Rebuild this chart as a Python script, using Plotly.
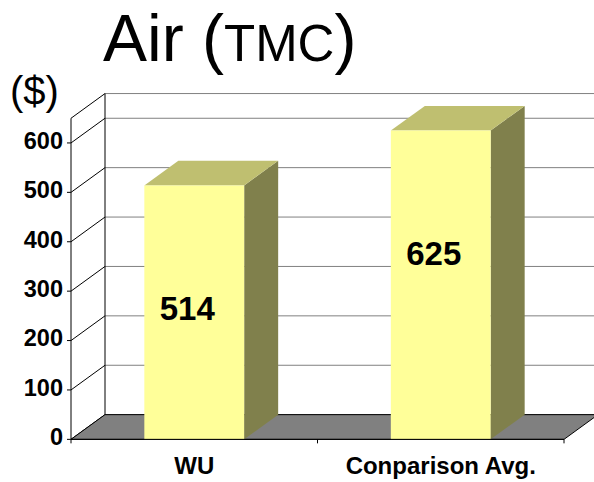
import plotly.graph_objects as go

# ---- chart data ----
categories = ["WU", "Conparison Avg."]
values = [514, 625]
y_ticks = [0, 100, 200, 300, 400, 500, 600]
y_max = 650
title_main = "Air ("
title_small = "TMC"
title_end = ")"
unit_label = "($)"

# ---- styling ----
FONT = "Liberation Sans, Arial, sans-serif"
FRONT = "#FFFF99"
TOP = "#BFBF70"
SIDE = "#80804C"
FLOOR = "#808080"
GRID = "#808080"

W, H = 594, 482
# axis scale: pixels per category unit and per dollar, with the front
# origin placed inside the full-page plotting area
PX_X, PX_Y = 246.5, 0.494
ORIGIN_PX = (71.0, 439.35)
X_LO = -0.5 - ORIGIN_PX[0] / PX_X
X_HI = X_LO + W / PX_X
Y_LO = -(H - ORIGIN_PX[1]) / PX_Y
Y_HI = Y_LO + H / PX_Y

# 3-D look: depth offset of the back planes, in axis units
DX, DY = 34 / PX_X, 50
BAR_HALF = 0.2025

fig = go.Figure()


def line(xs, ys, color="black", width=1):
    fig.add_trace(go.Scatter(x=xs, y=ys, mode="lines", hoverinfo="skip",
                             line=dict(color=color, width=width), showlegend=False))


def poly(xs, ys, fill, edge=None):
    fig.add_trace(go.Scatter(x=xs + [xs[0]], y=ys + [ys[0]], mode="lines", fill="toself",
                             fillcolor=fill, hoverinfo="skip",
                             line=dict(color=edge or fill, width=1 if edge else 0),
                             showlegend=False))


x_left, x_right = -0.5, len(categories) - 0.5

# back wall grid lines
for v in y_ticks + [y_max]:
    line([x_left + DX, X_HI + 0.1], [v + DY, v + DY], color=GRID, width=1)
# back wall left edge
line([x_left + DX, x_left + DX], [DY, y_max + DY])
# side wall diagonals
for v in y_ticks + [y_max]:
    line([x_left, x_left + DX], [v, v + DY])

# floor
poly([x_left, x_right, x_right + DX, x_left + DX], [0, 0, DY, DY], FLOOR, edge="black")

# bars: side face, top face, front face
for i, v in enumerate(values):
    x0, x1 = i - BAR_HALF, i + BAR_HALF
    poly([x1, x1 + DX, x1 + DX, x1], [0, DY, v + DY, v], SIDE)
    poly([x0, x1, x1 + DX, x0 + DX], [v, v, v + DY, v + DY], TOP)
    poly([x0, x1, x1, x0], [0, 0, v, v], FRONT)

# front value axis with tick marks
line([x_left, x_left], [0, y_max])
tick_w = 4 / PX_X
for v in y_ticks:
    line([x_left - tick_w, x_left], [v, v])
# category axis along the floor front edge
line([x_left, x_right], [0, 0])
for k in range(len(categories) + 1):
    line([x_left + k, x_left + k], [0, -4 / PX_Y])

# value tick labels
fig.add_trace(go.Scatter(
    x=[x_left - 8 / PX_X] * len(y_ticks), y=y_ticks, mode="text",
    text=[f"<b>{v}</b>" for v in y_ticks], textposition="middle left",
    textfont=dict(family=FONT, size=23.5, color="black"),
    hoverinfo="skip", showlegend=False))

# category labels under the floor
fig.add_trace(go.Scatter(
    x=list(range(len(categories))), y=[-29 / PX_Y] * len(categories), mode="text",
    text=[f"<b>{c}</b>" for c in categories], textposition="middle center",
    textfont=dict(family=FONT, size=24, color="black"),
    hoverinfo="skip", showlegend=False))

# value labels on bars
fig.add_trace(go.Scatter(
    x=[i - 7 / PX_X for i in range(len(values))], y=[v - 256 for v in values], mode="text",
    text=[f"<b>{v}</b>" for v in values], textposition="middle center",
    textfont=dict(family=FONT, size=33, color="black"),
    hoverinfo="skip", showlegend=False))

annotations = [
    dict(x=101 / W, y=1 - 38 / H, xref="paper", yref="paper",
         text=f"{title_main}<span style='font-size:51px'>{title_small}</span>{title_end}",
         showarrow=False, xanchor="left", yanchor="middle",
         font=dict(family=FONT, size=66, color="black")),
    dict(x=8 / W, y=1 - 91 / H, xref="paper", yref="paper", text=unit_label,
         showarrow=False, xanchor="left", yanchor="middle",
         font=dict(family=FONT, size=40, color="black")),
]

fig.update_layout(
    width=W, height=H,
    margin=dict(l=0, r=0, t=0, b=0, pad=0),
    paper_bgcolor="white", plot_bgcolor="white",
    xaxis=dict(range=[X_LO, X_HI], visible=False, fixedrange=True),
    yaxis=dict(range=[Y_LO, Y_HI], visible=False, fixedrange=True),
    annotations=annotations,
)

fig.write_html("out.html")
